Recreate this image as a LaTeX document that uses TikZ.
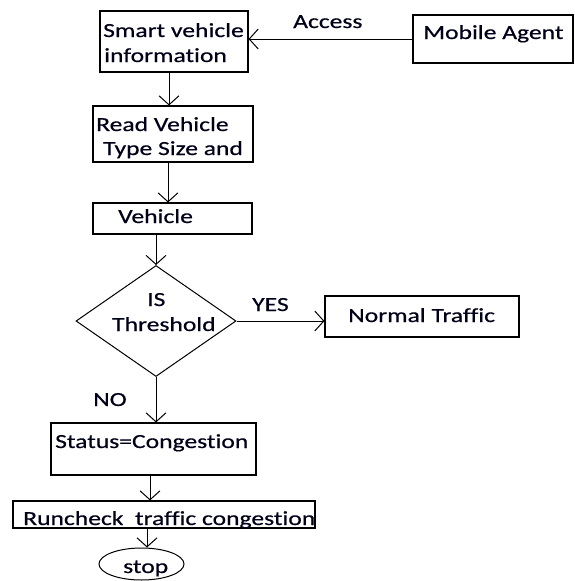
\documentclass[tikz,border=0pt]{standalone}
\usepackage{fontspec}
\setmainfont{Carlito}[FakeStretch=1.28,FakeBold=0.5,Ligatures=NoCommon]
\usetikzlibrary{arrows.meta,shapes.geometric}
\begin{document}
\begin{tikzpicture}[x=1pt,y=-1pt,
  box/.style={draw=black,line width=1.1pt,rectangle,inner sep=0pt,minimum width=#1},
  txt/.style={inner sep=0pt,anchor=base west,text=black!90!blue,font=\fontsize{20}{24}\selectfont},
  arr/.style={draw=black,line width=1pt,-{Straight Barb[length=9pt,width=20pt]}}]
\useasboundingbox[fill=white] (0,0) rectangle (574,581);
% boxes
\node[box=148pt,minimum height=61pt] (smart) at (174,41.5) {};
\node[box=160pt,minimum height=48pt] (agent) at (493,39) {};
\node[box=160pt,minimum height=56pt] (read) at (173,134) {};
\node[box=159pt,minimum height=31pt] (veh) at (172.5,218.5) {};
\node[draw=black,line width=1pt,diamond,inner sep=0pt,minimum width=160pt,minimum height=111pt] (dia) at (156,321) {};
\node[box=194pt,minimum height=41pt] (normal) at (422,316.5) {};
\node[box=205pt,minimum height=52pt] (status) at (153.5,449) {};
\node[box=302pt,minimum height=27pt] (run) at (164,514.5) {};
\node[draw=black,line width=1pt,ellipse,inner sep=0pt,minimum width=85pt,minimum height=32pt] (stop) at (141.5,564) {};
% texts
\node[txt] (t1) at (103,37) {Smart vehicle};
\node[txt] (t2) at (104,62) {information};
\node[txt] (t3) at (423,39) {Mobile Agent};
\node[txt] (t4) at (293,28) {Access};
\node[txt] (t5) at (96,131) {Read Vehicle};
\node[txt] (t6) at (103,155) {Type Size and};
\node[txt] (t7) at (118,223) {Vehicle};
\node[txt] (t8) at (147,306) {IS};
\node[txt] (t9) at (112,331) {Threshold};
\node[txt] (t10) at (252,311) {YES};
\node[txt] (t11) at (348,322) {Normal Traffic};
\node[txt] (t12) at (93,406) {NO};
\node[txt] (t13) at (55,448) {Status=Congestion};
\node[txt] (t14) at (23,525) {Runcheck\ \ traffic congestion};
\node[txt] (t15) at (123,573) {stop};
% connectors
\draw[arr] (agent.west) -- (agent.west -| smart.east);
\draw[arr] ([xshift=-5pt]smart.south) -- ([xshift=-5pt]smart.south |- read.north);
\draw[arr] ([xshift=-5pt]read.south) -- ([xshift=-5pt]read.south |- veh.north);
\draw[arr] (dia.north |- veh.south) -- (dia.north);
\draw[arr] (dia.east) -- (dia.east -| normal.west);
\draw[arr] (dia.south) -- (dia.south |- status.north);
\draw[arr] ([xshift=-3.5pt]status.south) -- ([xshift=-3.5pt]status.south |- run.north);
\draw[arr] ([xshift=5.5pt]stop.north |- run.south) -- ([xshift=5.5pt]stop.north);
\end{tikzpicture}
\end{document}
